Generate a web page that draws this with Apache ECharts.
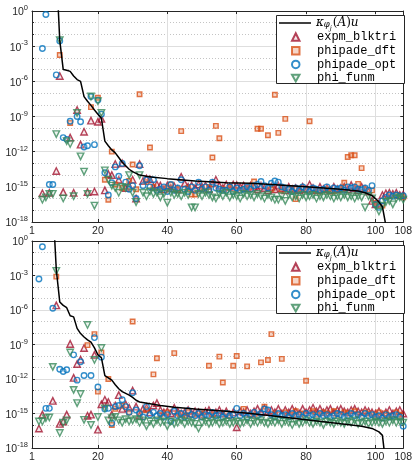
<!DOCTYPE html>
<html>
<head>
<meta charset="utf-8">
<script src="https://cdn.jsdelivr.net/npm/echarts@6/dist/echarts.min.js"></script>
<style>
  html, body { margin: 0; padding: 0; background: #fff; }
  #chart { width: 415px; height: 463px; }
</style>
</head>
<body>
<div id="chart"></div>
<script>
// tick labels of the x axis (index j)
const xTicks = [1, 20, 40, 60, 80, 100, 108];
const markerNames = ["expm_blktri", "phipade_dft", "phipade_opt", "phi_funm"];

// all y values below are log10 of the error

// kappa line, upper panel
const topKappaX = [8, 9, 10, 11, 12, 13, 14, 15, 16, 17, 18, 19, 20, 21, 22, 23, 24, 25, 26, 27, 28, 29, 30, 31, 32, 34, 36, 40, 48, 57, 64, 70, 80, 90, 95, 97, 99, 100, 101, 102, 103];
const topKappa = [3.7, -2.5, -5.0, -5.05, -5.15, -5.55, -5.85, -6.0, -7.3, -7.7, -8.05, -8.45, -8.8, -9.15, -11.1, -11.5, -11.85, -12.1, -12.5, -12.9, -13.2, -13.5, -13.7, -13.85, -14.0, -14.1, -14.18, -14.3, -14.5, -14.65, -14.7, -14.8, -15.0, -15.2, -15.35, -15.5, -15.75, -16.0, -16.3, -16.7, -18.3];

// upper panel markers, j = 1..108
const topBlktri = [
  null, null, null, -15.55, null, -15.5, null, -13.65, -5.55, -15.45,
  null, -10.8, -15.5, -8.45, -11.4, -10.3, -15.45, -9.35, -15.4, -9.45,
  -9.2, -15.3, -13.9, -14.0, -13.05, -14.4, -13.0, -15.1, -14.9, -14.4,
  -16.0, -13.05, -14.5, -14.3, -14.35, -15.0, -14.8, -14.9, -15.2, -14.9,
  -15.1, -14.95, -15.2, -14.15, -14.7, -15.0, -14.9, -15.1, -14.8, -15.0,
  -14.9, -15.2, -14.7, -14.4, -14.9, -15.1, -14.8, -15.0, -14.8, -14.85,
  -15.0, -14.9, -15.1, -14.9, -15.0, -15.2, -14.9, -15.1, -15.3, -15.0,
  -15.2, -14.9, -15.1, -15.3, -15.0, -15.2, -15.1, -15.3, -15.0, -15.2,
  -14.8, -15.1, -15.3, -15.0, -15.2, -15.1, -15.3, -15.0, -15.2, -15.1,
  -15.0, -15.2, -14.85, -15.1, -15.3, -15.0, -15.2, -15.4, -16.2, -16.5,
  -16.4, -15.7, -15.55, -15.5, -15.6, -15.5, -15.7, -15.65
];
const topDft = [
  null, null, null, null, null, null, null, null, -3.75, null,
  null, -9.55, null, null, null, null, null, -8.2, null, -7.4,
  null, -14.4, -16.1, -12.0, -14.8, null, -15.1, null, -14.5, -13.1,
  -15.2, -7.1, null, -14.6, -11.65, -15.0, null, -15.3, null, -15.1,
  -14.8, null, -15.2, -10.25, null, -15.1, -15.65, -15.65, null, -15.2,
  null, -15.0, -12.5, -9.8, -10.85, -15.2, null, -15.1, null, -15.3,
  null, -15.2, null, -15.0, -14.55, -10.05, -10.05, null, -10.6, -15.2,
  -7.15, -10.4, -15.3, -9.2, null, -15.1, -16.05, -15.3, null, -15.2,
  -9.4, null, -15.3, -15.4, null, -15.2, -15.4, -15.35, null, -15.2,
  -14.65, -12.45, -12.3, -12.3, -14.75, -13.4, -15.2, null, -15.3, -16.4,
  null, -16.6, null, -15.8, null, -15.7, null, -15.9
];
const topOpt = [
  null, null, null, -3.2, -0.3, -14.8, -14.8, -5.45, -2.55, -10.8,
  -10.95, -9.4, null, -9.0, -9.45, -11.6, -11.5, -7.3, -11.4, -7.6,
  -8.8, -13.8, -15.7, -14.65, -13.3, -14.1, -13.0, -14.6, -15.2, -14.9,
  -16.0, -13.2, -14.9, -14.4, -15.0, -14.4, -15.3, -15.2, -15.0, -15.4,
  -14.8, -15.3, -15.1, -14.4, -15.2, -15.4, -15.0, -15.3, -14.6, -15.2,
  -15.0, -15.3, -14.6, -15.1, -15.2, -15.3, -15.3, -15.0, -15.4, -15.1,
  -15.3, -15.2, -15.0, -15.2, -14.9, -14.8, -14.55, -14.9, -15.1, -14.7,
  -14.5, -14.6, -15.0, -15.1, -15.2, -15.4, -15.1, -15.3, -15.0, -15.2,
  -15.4, -15.1, -15.2, -15.3, -15.2, -15.0, -15.3, -15.1, -15.2, -15.1,
  -15.3, -15.0, -15.1, -15.0, -15.2, -15.25, -15.1, -15.3, -14.9, -16.5,
  -16.75, -16.2, -15.9, -15.7, -15.8, -15.7, -15.8, -15.75
];
const topFunm = [
  null, null, null, -16.1, -15.9, -15.6, -15.6, -10.5, -2.5, -16.0,
  -11.1, -11.35, -15.8, -8.7, -12.4, -13.7, -15.6, -7.3, -16.6, -7.7,
  -8.7, -13.6, -14.4, -14.9, -15.1, -15.5, -15.0, -15.1, -14.0, -15.5,
  -16.3, -14.0, -15.5, -15.8, -15.4, -15.6, -15.5, -15.9, -15.6, -16.35,
  -15.5, -15.7, -15.6, -15.8, -15.5, -15.7, -16.75, -16.75, -15.6, -15.8,
  -15.5, -15.7, -15.9, -16.0, -15.6, -15.8, -15.5, -15.9, -15.7, -15.8,
  -16.0, -15.6, -15.8, -15.7, -15.9, -15.6, -15.8, -16.0, -15.7, -15.9,
  -16.1, -16.1, -15.8, -16.2, -15.7, -15.9, -15.8, -16.0, -15.7, -15.9,
  -15.8, -15.7, -16.0, -15.8, -15.9, -15.7, -15.8, -16.0, -15.8, -15.9,
  -15.7, -15.9, -15.8, -16.0, -15.8, -15.9, -16.75, -15.8, -16.0, -16.6,
  -17.1, -16.6, -16.3, -16.2, -16.5, -16.0, -15.9, -16.1
];

// kappa line, lower panel
const botKappaX = [7, 8, 9, 10, 11, 12, 13, 14, 15, 16, 17, 18, 19, 20, 21, 22, 23, 24, 25, 26, 27, 28, 29, 30, 31, 32, 35, 38, 42, 48, 57, 64, 70, 80, 90, 96, 99, 100, 101, 102, 103];
const botKappa = [3.3, -2.5, -5.3, -5.6, -5.8, -6.5, -6.6, -7.6, -8.05, -8.35, -8.6, -8.8, -9.3, -9.9, -10.15, -11.7, -11.9, -12.1, -12.5, -12.85, -13.1, -13.25, -13.4, -13.6, -13.85, -14.0, -14.15, -14.3, -14.45, -14.6, -14.8, -15.0, -15.2, -15.55, -15.9, -16.1, -16.3, -16.45, -16.6, -16.9, -19.5];

// lower panel markers, j = 1..108
const botBlktri = [
  null, null, -16.3, -15.1, null, null, -13.9, -5.6, -15.9, -15.7,
  -15.1, -8.95, -11.9, -10.7, -10.3, -9.3, -15.2, -15.1, -9.9, -16.4,
  -14.2, -13.8, -14.0, -15.1, -14.3, -13.4, -14.6, -14.2, -14.5, -13.0,
  -14.4, -15.2, -14.6, -14.5, -14.9, -14.3, -14.1, -14.7, -14.9, -14.8,
  -15.0, -14.5, -14.8, -15.0, -14.9, -14.7, -15.0, -14.8, -14.9, -15.1,
  -14.8, -14.7, -15.0, -14.9, -14.7, -15.0, -14.8, -15.1, -14.9, -16.2,
  -14.8, -14.9, -14.7, -15.0, -14.8, -14.6, -14.9, -14.55, -14.8, -14.7,
  -14.9, -14.6, -15.0, -14.7, -14.9, -14.6, -14.8, -15.0, -14.6, -14.9,
  -14.7, -14.5, -14.8, -14.6, -14.9, -14.7, -14.6, -14.9, -14.7, -14.6,
  -14.8, -14.9, -14.7, -14.6, -14.8, -14.9, -14.7, -14.8, -14.9, -15.0,
  -14.8, -15.1, -14.9, -14.7, -15.0, -14.8, -14.7, -15.0
];
const botDft = [
  null, null, null, null, null, null, null, -3.1, null, null,
  null, null, null, null, null, null, -9.05, null, -8.1, -13.1,
  -9.7, null, -12.0, -16.0, -14.6, null, -14.3, null, -14.9, -7.0,
  null, -15.0, null, -14.7, null, -11.6, -10.2, -15.1, null, -14.9,
  null, -9.75, -15.0, null, -15.2, -14.9, null, -15.1, null, -15.0,
  null, -10.85, -15.1, null, -10.05, -12.3, -15.0, null, -10.85, -10.0,
  null, -14.6, -10.9, null, -15.1, null, -10.55, -14.4, -10.35, -8.1,
  -15.0, null, -10.25, -14.9, null, -15.1, -14.8, null, -15.0, -12.15,
  null, -14.8, -15.1, null, -14.9, -15.0, null, -14.8, -15.1, null,
  -14.9, -15.0, null, -14.8, -15.1, null, -14.9, -15.0, null, -15.1,
  -14.9, null, -15.0, -15.2, null, -14.9, -15.1, null
];
const botOpt = [
  null, null, -3.3, -0.5, -14.55, -14.55, -5.85, null, -11.15, -11.35,
  -11.2, null, -9.9, -12.1, -10.5, -11.7, null, -11.7, -8.4, -12.7,
  -10.1, -14.6, -14.55, -15.85, -14.4, -14.3, -13.8, -14.4, -14.9, -13.2,
  -14.7, -15.0, -15.3, -14.4, -15.1, -14.9, -15.2, -15.0, -15.3, -15.1,
  -15.7, -14.8, -15.2, -15.0, -15.3, -14.75, -15.1, -15.2, -15.0, -15.3,
  -15.1, -15.2, -14.9, -15.2, -15.1, -15.3, -15.0, -15.2, -15.1, -14.55,
  -15.2, -15.0, -15.3, -15.1, -14.9, -15.2, -15.0, -14.6, -14.7, -15.1,
  -15.3, -15.0, -15.2, -15.1, -15.3, -15.0, -15.2, -15.1, -15.3, -15.0,
  -15.2, -15.1, -15.3, -15.0, -15.2, -15.1, -15.3, -15.2, -15.0, -15.1,
  -15.3, -15.2, -15.0, -15.2, -15.1, -15.3, -15.0, -15.2, -15.1, -15.3,
  -15.2, -15.4, -15.1, -15.3, -15.2, -15.1, -15.3, -16.1
];
const botFunm = [
  null, null, -15.7, -15.7, -15.4, -15.35, -10.95, -2.6, -16.7, -15.8,
  -15.6, -9.7, -12.95, -14.1, -13.3, -15.55, -7.3, -16.0, -10.35, -15.3,
  -9.3, -14.55, -15.6, -15.4, -15.3, -15.6, -15.8, -15.5, -15.7, -15.6,
  -15.5, -15.8, -15.6, -16.1, -15.7, -15.9, -15.6, -15.8, -15.7, -16.1,
  -15.7, -15.9, -15.8, -15.6, -15.9, -15.7, -15.8, -15.9, -16.3, -15.8,
  -15.7, -15.9, -15.8, -15.6, -15.9, -15.8, -15.7, -15.9, -15.8, -15.7,
  -15.9, -15.8, -15.6, -15.9, -15.7, -15.8, -15.6, -15.8, -15.9, -15.7,
  -15.8, -15.6, -15.9, -15.7, -15.8, -16.0, -15.7, -15.9, -15.8, -15.6,
  -15.8, -15.9, -15.7, -15.8, -16.0, -15.7, -15.8, -15.9, -15.7, -15.8,
  -15.9, -15.7, -15.8, -15.6, -15.9, -15.8, -15.7, -15.9, -15.8, -15.7,
  -15.8, -15.9, -15.7, -15.8, -15.6, -15.8, -15.7, -15.8
];

const color = {
  frame: "#262626",
  grid: "#dedede",
  minor: "#c4c4c4",
  kappa: "#000000",
  blktri: "#A2142F",
  dft: "#D95319",
  opt: "#0072BD",
  funm: "#3A8A5B",
};

// j -> [j, value], skip empty entries
function toPoints(values) {
  return values.map((v, i) => [i + 1, v]).filter((p) => p[1] !== null);
}

function getAxes(gridIndex) {
  const frameLine = { show: true, onZero: false, lineStyle: { color: color.frame, width: 1 } };
  const xBottom = {
    type: "value", gridIndex, min: 1, max: 108, position: "bottom",
    axisLine: frameLine,
    axisTick: { show: true, inside: true, length: 3, customValues: xTicks, lineStyle: { color: color.frame } },
    axisLabel: { customValues: xTicks, color: color.frame, fontSize: 10.5, fontFamily: "Liberation Sans", margin: 4 },
    splitLine: { show: true, lineStyle: { color: color.grid, width: 1 } },
  };
  const xTop = {
    type: "value", gridIndex, min: 1, max: 108, position: "top",
    axisLine: frameLine,
    axisTick: { show: true, inside: true, length: 3, customValues: xTicks, lineStyle: { color: color.frame } },
    axisLabel: { show: false },
    splitLine: { show: false },
  };
  const yLeft = {
    type: "value", gridIndex, min: -18, max: 0, interval: 3, position: "left",
    axisLine: frameLine,
    axisTick: { show: true, inside: true, length: 3, lineStyle: { color: color.frame } },
    minorTick: { show: true, splitNumber: 3, length: 2, lineStyle: { color: color.frame } },
    axisLabel: {
      margin: 4,
      formatter: (v) => `{b|10}{e|${v}}`,
      rich: {
        b: { fontSize: 10.5, fontFamily: "Liberation Sans", color: color.frame, lineHeight: 14, verticalAlign: "bottom" },
        e: { fontSize: 7.5, fontFamily: "Liberation Sans", color: color.frame, lineHeight: 14, verticalAlign: "top" },
      },
    },
    splitLine: { show: true, lineStyle: { color: color.grid, width: 1 } },
    minorSplitLine: { show: true, lineStyle: { color: color.minor, width: 1, type: [1, 2] } },
  };
  const yRight = {
    type: "value", gridIndex, min: -18, max: 0, interval: 3, position: "right",
    axisLine: frameLine,
    axisTick: { show: true, inside: true, length: 3, lineStyle: { color: color.frame } },
    minorTick: { show: true, splitNumber: 3, length: 2, lineStyle: { color: color.frame } },
    axisLabel: { show: false },
    splitLine: { show: false },
  };
  return { x: [xBottom, xTop], y: [yLeft, yRight] };
}

function getSeries(axisIndex, kappaX, kappa, blktri, dft, opt, funm) {
  const base = { type: "scatter", xAxisIndex: axisIndex, yAxisIndex: axisIndex, animation: false };
  return [
    {
      name: "kappa", type: "line", xAxisIndex: axisIndex, yAxisIndex: axisIndex,
      data: kappaX.map((x, i) => [x, kappa[i]]),
      symbol: "none", showSymbol: false, clip: true, animation: false,
      lineStyle: { color: color.kappa, width: 1.5 },
      itemStyle: { color: color.kappa },
    },
    {
      ...base, name: "expm_blktri", symbol: "triangle", symbolSize: 6.5,
      itemStyle: { color: "rgba(162,20,47,0.12)", borderColor: color.blktri, borderWidth: 1.4 },
      data: toPoints(blktri),
    },
    {
      ...base, name: "phipade_dft", symbol: "rect", symbolSize: 4.5,
      itemStyle: { color: "rgba(217,83,25,0.3)", borderColor: color.dft, borderWidth: 1.4 },
      data: toPoints(dft),
    },
    {
      ...base, name: "phipade_opt", symbol: "circle", symbolSize: 5.5,
      itemStyle: { color: "rgba(255,255,255,0.2)", borderColor: color.opt, borderWidth: 1.4 },
      data: toPoints(opt),
    },
    {
      ...base, name: "phi_funm", symbol: "triangle", symbolRotate: 180, symbolSize: 6.5,
      itemStyle: { color: "rgba(58,138,91,0.12)", borderColor: color.funm, borderWidth: 1.4 },
      data: toPoints(funm),
    },
  ];
}

// legend: box + line entry + marker entries
function getLegends(top) {
  const kappaLegend = {
    data: [{ name: "kappa", icon: "rect" }],
    left: 279, top: top + 2, padding: 0, itemWidth: 32, itemHeight: 1.5,
    selectedMode: false, z: 5,
    textStyle: {
      color: "#000",
      rich: {
        k: { fontFamily: "DejaVu Serif", fontStyle: "italic", fontSize: 12, lineHeight: 17, verticalAlign: "middle", color: "#000" },
        p: { fontFamily: "DejaVu Serif", fontSize: 12, lineHeight: 17, verticalAlign: "middle", color: "#000" },
        s: { fontFamily: "DejaVu Serif", fontStyle: "italic", fontSize: 8.5, lineHeight: 10, verticalAlign: "bottom", padding: [0, 0, 2, 0], color: "#000" },
        j: { fontFamily: "DejaVu Serif", fontStyle: "italic", fontSize: 6.5, lineHeight: 7, verticalAlign: "bottom", padding: [0, 1, 0, 0], color: "#000" },
      },
    },
    formatter: () => "{k|κ}{s|φ}{j|j}{p|(}{k|A}{p|)}{k|u}",
  };
  const markerLegend = {
    data: [
      { name: "expm_blktri" },
      { name: "phipade_dft" },
      { name: "phipade_opt" },
      { name: "phi_funm", icon: "path://M0,0 L10,0 L5,9 Z" },
    ],
    orient: "vertical", left: 291, top: top + 15.5, padding: 0,
    itemGap: 0.7, itemWidth: 7.5, itemHeight: 7.5,
    selectedMode: false, z: 5,
    textStyle: { fontFamily: "Liberation Mono", fontSize: 12, lineHeight: 13, color: "#000", padding: [0, 0, 0, 12.5] },
  };
  return [kappaLegend, markerLegend];
}

function getLegendBox(top) {
  return {
    type: "rect", left: 276, top, z: 3,
    shape: { width: 128, height: 68 },
    style: { fill: "#fff", stroke: color.frame, lineWidth: 1 },
  };
}

const topAxes = getAxes(0);
const botAxes = getAxes(1);

const option = {
  animation: false,
  backgroundColor: "#fff",
  grid: [
    { left: 32, top: 11, width: 375, height: 211, show: false },
    { left: 32, top: 241, width: 375, height: 211, show: false },
  ],
  xAxis: [...topAxes.x, ...botAxes.x],
  yAxis: [...topAxes.y, ...botAxes.y],
  legend: [...getLegends(15), ...getLegends(245)],
  graphic: [getLegendBox(15), getLegendBox(245)],
  series: [
    ...getSeries(0, topKappaX, topKappa, topBlktri, topDft, topOpt, topFunm),
    ...getSeries(2, botKappaX, botKappa, botBlktri, botDft, botOpt, botFunm),
  ],
};

const chart = echarts.init(document.getElementById("chart"), null, { renderer: "canvas" });
chart.setOption(option);
</script>
</body>
</html>
